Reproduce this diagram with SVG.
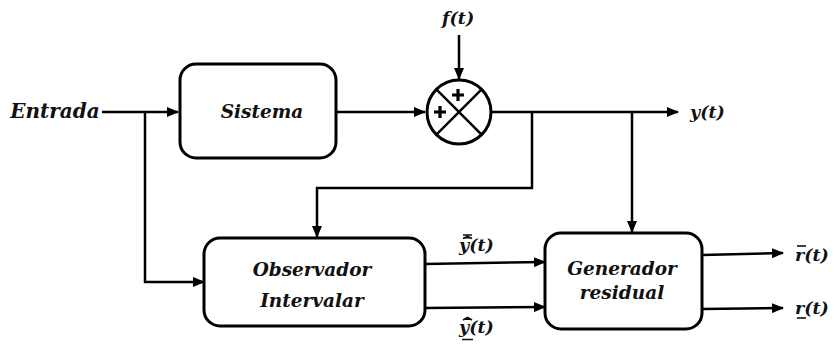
<svg xmlns="http://www.w3.org/2000/svg" width="835" height="346" viewBox="0 0 835 346">
<style>
.box{fill:#fff;stroke:#000;stroke-width:3}
.ln{fill:none;stroke:#000;stroke-width:2.5}
.lbl{font-family:"DejaVu Serif",serif;font-weight:bold;font-style:italic;font-size:18.5px;fill:#111;text-anchor:middle}
.math{font-family:"DejaVu Serif",serif;font-weight:bold;font-style:italic;font-size:17.5px;fill:#111}
.bar{stroke:#111;stroke-width:1.6}
</style>
<defs>
<marker id="ah" markerWidth="12" markerHeight="10" refX="11" refY="5" orient="auto" markerUnits="userSpaceOnUse">
<path d="M0,0 L12,5 L0,10 Z" fill="#000"/>
</marker>
</defs>
<rect width="835" height="346" fill="#fff"/>
<g id="connectors">
<path class="ln" d="M102,112 H178" marker-end="url(#ah)"/>
<path class="ln" d="M145,112 V282 H204" marker-end="url(#ah)"/>
<path class="ln" d="M336,112 H425" marker-end="url(#ah)"/>
<path class="ln" d="M459,35 V79" marker-end="url(#ah)"/>
<path class="ln" d="M491,112 H678" marker-end="url(#ah)"/>
<path class="ln" d="M532,112 V188 H317 V237" marker-end="url(#ah)"/>
<path class="ln" d="M632,112 V232" marker-end="url(#ah)"/>
<path class="ln" d="M425,264 L545,262" marker-end="url(#ah)"/>
<path class="ln" d="M425,308 L545,307" marker-end="url(#ah)"/>
<path class="ln" d="M702,255 L783,253" marker-end="url(#ah)"/>
<path class="ln" d="M702,309 L783,308" marker-end="url(#ah)"/>
</g>
<g id="entrada"><text class="lbl" x="55" y="118" style="font-size:20px">Entrada</text></g>
<g id="sistema">
<rect class="box" x="180" y="64" width="156" height="94" rx="16"/>
<text class="lbl" x="262" y="118">Sistema</text>
</g>
<g id="sum">
<circle cx="459" cy="112" r="32" fill="#fff" stroke="#000" stroke-width="3"/>
<path class="ln" d="M436.4,89.4 L481.6,134.6 M481.6,89.4 L436.4,134.6"/>
<path d="M458,89 V101 M452,95 H464 M440,106 V118 M434,112 H446" stroke="#000" stroke-width="3.2"/>
</g>
<g id="f"><text class="math" x="442" y="24">f(t)</text></g>
<g id="y"><text class="math" x="690" y="118">y(t)</text></g>
<g id="observador">
<rect class="box" x="204" y="238" width="221" height="88" rx="16"/>
<text class="lbl" x="312" y="276">Observador</text>
<text class="lbl" x="312" y="307">Intervalar</text>
</g>
<g id="generador">
<rect class="box" x="545" y="233" width="157" height="96" rx="16"/>
<text class="lbl" x="622" y="275">Generador</text>
<text class="lbl" x="622" y="299">residual</text>
</g>
<g id="yupper">
<text class="math" x="459" y="251">y(t)</text>
<path class="bar" d="M463,235 H472 M463,238.5 L467.5,236.5 L472,238.5"/>
</g>
<g id="ylower">
<text class="math" x="459" y="333">y(t)</text>
<path class="bar" d="M462,339.5 H473 M463,320 L467.5,317.5 L472,320"/>
</g>
<g id="rupper">
<text class="math" x="795" y="261">r(t)</text>
<path class="bar" d="M797,246 H806"/>
</g>
<g id="rlower">
<text class="math" x="795" y="314">r(t)</text>
<path class="bar" d="M797,318 H806"/>
</g>
</svg>
